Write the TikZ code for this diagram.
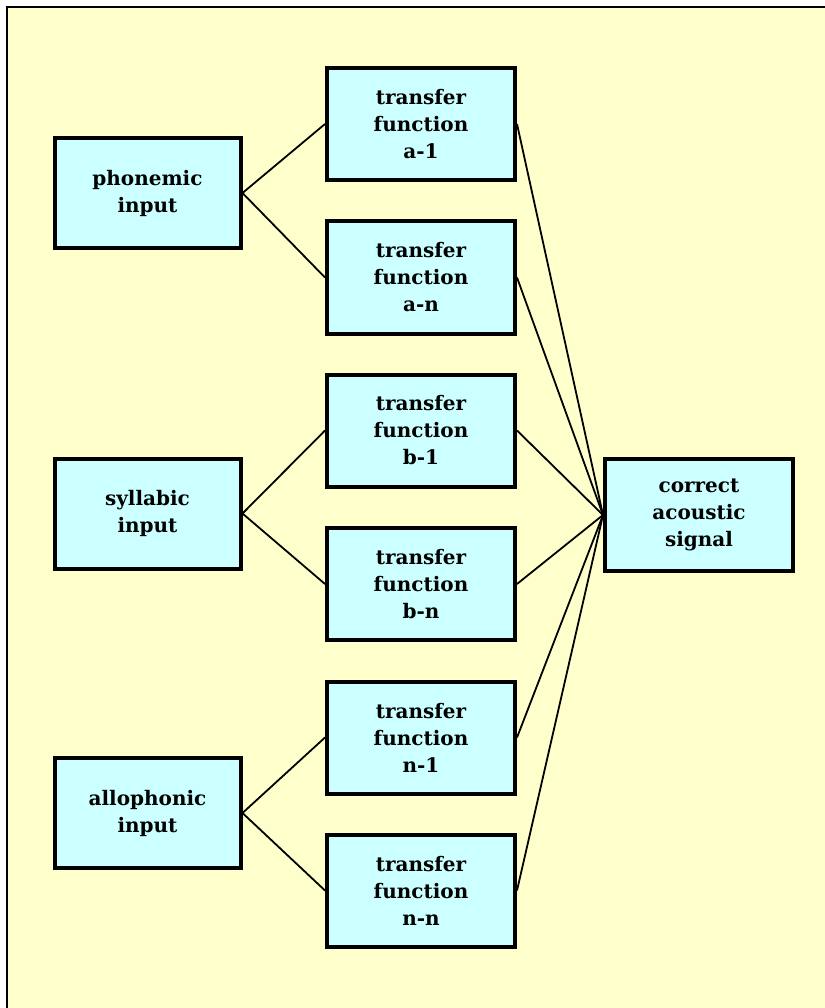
\documentclass[tikz,border=0pt]{standalone}
\usepackage{fontspec}
\setmainfont{DejaVu Serif}
\begin{document}
\begin{tikzpicture}[x=1pt,y=-1pt,
  box/.style={draw=black, line width=4pt, fill=boxcyan, align=center,
    inner sep=0pt, font=\bfseries\fontsize{20}{27}\selectfont},
  inbox/.style={box, minimum width=186pt, minimum height=110pt},
  tfbox/.style={box, minimum width=188pt, minimum height=112pt},
  link/.style={draw=black, line width=1.8pt}]
\definecolor{boxcyan}{HTML}{CCFFFF}
\definecolor{paper}{HTML}{FFFFCC}
\useasboundingbox (0,0) rectangle (824,1008);
\fill[white] (0,0) rectangle (824,1008);
\fill[paper] (7,7) rectangle (830,1015);
\draw[line width=1.5pt] (7,1015) -- (7,7) -- (830,7);

\node[inbox] (phon) at (147.5,193) {phonemic\\input};
\node[inbox] (syll) at (147.5,513.5) {syllabic\\input};
\node[inbox] (allo) at (147.5,813) {allophonic\\input};

\node[tfbox] (a1) at (421,124) {transfer\\function\\a-1};
\node[tfbox] (an) at (421,277.5) {transfer\\function\\a-n};
\node[tfbox] (b1) at (421,430.5) {transfer\\function\\b-1};
\node[tfbox] (bn) at (421,584) {transfer\\function\\b-n};
\node[tfbox] (n1) at (421,737.5) {transfer\\function\\n-1};
\node[tfbox] (nn) at (421,890.5) {transfer\\function\\n-n};

\node[tfbox] (sig) at (699,515) {correct\\acoustic\\signal};

\foreach \src/\dst in {phon/a1, phon/an, syll/b1, syll/bn, allo/n1, allo/nn}
  \draw[link] (\src.east) -- (\dst.west);
\foreach \src in {a1, an, b1, bn, n1, nn}
  \draw[link] (\src.east) -- (sig.west);
\end{tikzpicture}
\end{document}
